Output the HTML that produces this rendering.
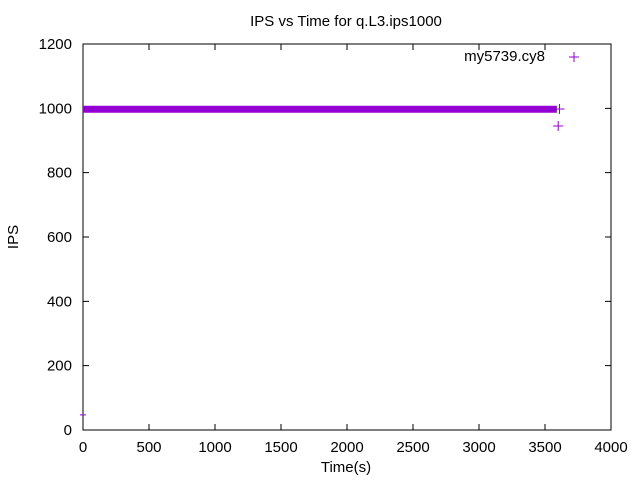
<!DOCTYPE html>
<html><head><meta charset="utf-8"><style>
body{margin:0;background:#fff}
svg text{font-family:"Liberation Sans",sans-serif;font-size:15px;fill:#000}
</style></head><body>
<svg width="640" height="480">
<text x="346" y="26" text-anchor="middle">IPS vs Time for q.L3.ips1000</text>
<rect x="83" y="44" width="528" height="386" fill="none" stroke="#000"/>
<g id="axes"></g>
<g id="marks"></g>
<text x="346" y="472" text-anchor="middle">Time(s)</text>
<text transform="translate(18,237) rotate(-90)" text-anchor="middle">IPS</text>
<text x="545" y="61" text-anchor="end">my5739.cy8</text>
<path d="M569 57h10M574 52v10" stroke="#9400d3"/>
</svg>
<script>
const xTicks=[0,500,1000,1500,2000,2500,3000,3500,4000];
const yTicks=[0,200,400,600,800,1000,1200];
const times=[0,200,400,600,800,1000,1200,1400,1600,1800,2000,2200,2400,2600,2800,3000,3200,3400,3590];
const ips=[997,997,997,997,997,997,997,997,997,997,997,997,997,997,997,997,997,997,997];
const extraT=[3600,3610,0];
const extraV=[945,998,47];
const X=v=>83+v/4000*528, Y=v=>430-v/1200*386;
const NS="http://www.w3.org/2000/svg";
const ax=document.getElementById('axes'), mk=document.getElementById('marks');
function el(p,tag,a){const e=document.createElementNS(NS,tag);for(const k in a)e.setAttribute(k,a[k]);p.appendChild(e);return e;}
xTicks.forEach(t=>{
 const l=el(ax,'path',{d:`M${X(t)} 430v-6M${X(t)} 44v6`,stroke:'#000'});
 
 
 const tx=el(ax,'text',{x:X(t),y:452,'text-anchor':'middle'});tx.textContent=t;
 
 
});
yTicks.forEach(t=>{
 const l=el(ax,'path',{d:`M83 ${Y(t)}h6M611 ${Y(t)}h-6`,stroke:'#000'});
 
 
 const tx=el(ax,'text',{x:72,y:Y(t)+5,'text-anchor':'end'});tx.textContent=t;
 
 
});
const band=el(mk,'polyline',{points:times.map((t,i)=>X(t)+','+Y(ips[i])).join(' '),fill:'none',stroke:'#9400d3','stroke-width':7});


extraT.forEach((t,i)=>{
 const x=X(t),y=Y(extraV[i]);
 const p=el(mk,'path',{d:i==2?`M${x-3} ${y}h6`:`M${x-5} ${y}h10M${x} ${y-5}v10`,stroke:'#9400d3'});
 
 
});
</script>
</body></html>
